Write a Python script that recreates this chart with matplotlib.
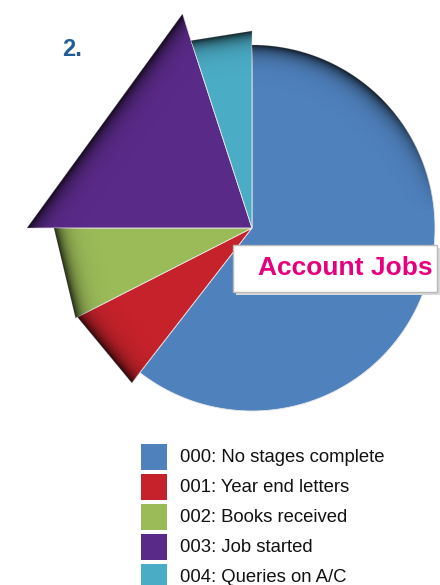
import numpy as np
import matplotlib.pyplot as plt
from matplotlib.patches import Polygon, Rectangle

plt.rcParams['font.family'] = ['Liberation Sans', 'DejaVu Sans']

# data
labels = ['000: No stages complete', '001: Year end letters', '002: Books received',
          '003: Job started', '004: Queries on A/C']
jobs = [121, 14, 15, 40, 10]
colors = ['#4F81BD', '#C5222B', '#9BBB59', '#5A2A88', '#4BACC6']
radii = [183, 196, 198, 225, 197]   # every slice sticks out a different amount

W, H = 440, 585
cx, cy = 252, 228

fig = plt.figure(figsize=(4.4, 5.85), dpi=100)
ax = fig.add_axes([0, 0, 1, 1])
ax.axis('off')

X, Y = np.meshgrid(np.arange(W) + 0.5, np.arange(H) + 0.5)

fracs = np.array(jobs) / sum(jobs)
edges = 90 - 360 * np.concatenate([[0], np.cumsum(fracs)])


def pt(ang, r):
    a = np.radians(ang)
    return cx + r * np.cos(a), cy - r * np.sin(a)


for i in range(len(jobs)):
    a1, a2 = edges[i], edges[i + 1]
    r = radii[i]
    if i == 0:
        # big slice keeps a round edge
        angs = np.linspace(a1, a2, 300)
        verts = [(cx, cy)] + [pt(a, r) for a in angs]
        d = r - np.hypot(X - cx, Y - cy)
        ang = np.degrees(np.arctan2(cy - Y, X - cx))
        w = np.clip((ang - 5) / 40, 0, 1)
    else:
        # small slices are flat triangles
        p1 = np.array(pt(a1, r))
        p2 = np.array(pt(a2, r))
        verts = [(cx, cy), tuple(p1), tuple(p2)]
        mid = (p1 + p2) / 2
        n = mid - np.array([cx, cy])
        n = n / np.linalg.norm(n)
        d = (mid[0] - X) * n[0] + (mid[1] - Y) * n[1]
        w = 1.0
    poly = Polygon(verts, closed=True, facecolor=colors[i], edgecolor='#e8e8e8',
                   lw=0.6, zorder=2)
    ax.add_patch(poly)
    # dark rim along the outer edge
    shade = np.zeros((H, W, 4))
    shade[..., 3] = 0.8 * w * np.exp(-np.clip(d, 0, None) / 8)
    im = ax.imshow(shade, extent=(0, W, H, 0), zorder=3, interpolation='bilinear')
    im.set_clip_path(poly)

# label box
ax.add_patch(Rectangle((236, 248), 204, 47, facecolor='#d9d9d9', edgecolor='none', zorder=4))
ax.add_patch(Rectangle((233, 245), 204, 47, facecolor='white', edgecolor='#b8b8b8', lw=1, zorder=5))
ax.text(345, 268, 'Account Jobs', fontsize=19, fontweight='bold', color='#E6007E',
        ha='center', va='center', zorder=6)

ax.text(62, 49, '2.', fontsize=17, fontweight='bold', color='#1F5C99', ha='left', va='center')

# legend
for i, lab in enumerate(labels):
    y0 = 444 + 30 * i
    ax.add_patch(Rectangle((141, y0), 26, 26, facecolor=colors[i], edgecolor='none'))
    ax.text(180, y0 + 14, lab, fontsize=13.3, color='#111111', ha='left', va='center')

ax.set_xlim(0, W)
ax.set_ylim(H, 0)
plt.savefig('out.png', dpi=100)
